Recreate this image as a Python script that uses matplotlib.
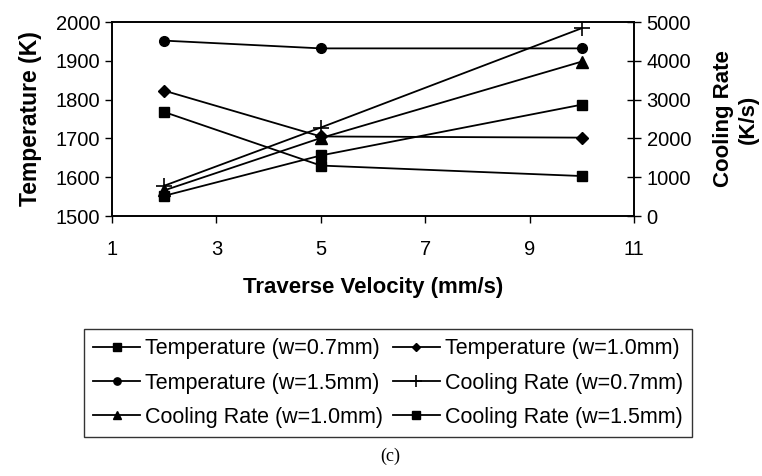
import matplotlib.pyplot as plt

plt.rcParams['font.family'] = ['Liberation Sans', 'DejaVu Sans']

# данные
velocity = [2, 5, 10]
temp_07 = [1768, 1630, 1603]
temp_10 = [1823, 1705, 1702]
temp_15 = [1952, 1932, 1932]
cool_07 = [780, 2280, 4840]
cool_10 = [660, 2010, 3980]
cool_15 = [520, 1560, 2870]

x_ticks = [1, 3, 5, 7, 9, 11]
left_ticks = [1500, 1600, 1700, 1800, 1900, 2000]
right_ticks = [0, 1000, 2000, 3000, 4000, 5000]

fig = plt.figure(figsize=(7.62, 4.76), dpi=100)
ax = fig.add_axes([112 / 762, 1 - 216 / 476, (634 - 112) / 762, (216 - 22) / 476])
ax2 = ax.twinx()

lw = 1.3
kw = dict(color='black', lw=lw)
l1, = ax.plot(velocity, temp_07, marker='s', ms=7, label='Temperature (w=0.7mm)', **kw)
l2, = ax.plot(velocity, temp_10, marker='D', ms=6, label='Temperature (w=1.0mm)', **kw)
l3, = ax.plot(velocity, temp_15, marker='o', ms=7, label='Temperature (w=1.5mm)', **kw)
l4, = ax2.plot(velocity, cool_07, marker='+', ms=11, mew=1.2, label='Cooling Rate (w=0.7mm)', **kw)
l5, = ax2.plot(velocity, cool_10, marker='^', ms=8, label='Cooling Rate (w=1.0mm)', **kw)
l6, = ax2.plot(velocity, cool_15, marker='s', ms=7, label='Cooling Rate (w=1.5mm)', **kw)

ax.set_xlim(1, 11)
ax.set_ylim(1500, 2000)
ax2.set_ylim(0, 5000)
ax.set_xticks(x_ticks)
ax.set_yticks(left_ticks)
ax2.set_yticks(right_ticks)

ax.tick_params(axis='both', labelsize=14.5, direction='out', length=5, width=1)
ax2.tick_params(axis='y', labelsize=14.5, direction='inout', length=10, width=1, pad=4)
ax.tick_params(axis='x', pad=12)
for a in (ax, ax2):
    for s in a.spines.values():
        s.set_linewidth(1.2)

ax.set_xlabel('Traverse Velocity (mm/s)', fontsize=16, fontweight='bold', labelpad=13)
ax.set_ylabel('Temperature (K)', fontsize=16.5, fontweight='bold', labelpad=10)
ax2.set_ylabel('Cooling Rate\n(K/s)', fontsize=16, fontweight='bold', labelpad=16,
               linespacing=1.2)

# порядок в легенде: по строкам, как в оригинале
handles = [l1, l3, l5, l2, l4, l6]
leg = fig.legend(handles, [h.get_label() for h in handles], ncol=2,
                 loc='center', bbox_to_anchor=(388 / 762, 1 - 383 / 476),
                 fontsize=15.5, frameon=True, fancybox=False, edgecolor='black',
                 handlelength=2.2, handletextpad=0.22, columnspacing=0.45,
                 labelspacing=0.62, borderpad=0.42, borderaxespad=0, markerscale=0.75)
leg.get_frame().set_linewidth(1.0)

fig.text(390 / 762, 1 - 456 / 476, '(c)', ha='center', va='center', fontsize=13,
         family=['Liberation Serif', 'DejaVu Serif'])

fig.savefig('out.png', dpi=100)
